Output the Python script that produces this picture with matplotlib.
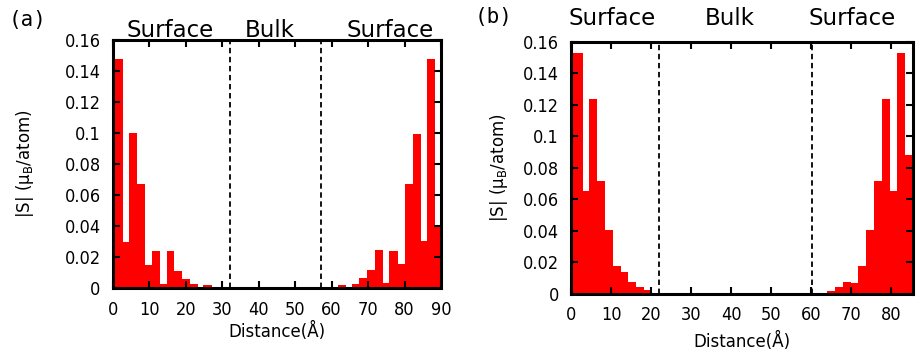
import numpy as np
import matplotlib
matplotlib.use("Agg")
import matplotlib.pyplot as plt

# Panel (a): layer boundaries (Angstrom) and |S| per layer
edges_a = [0, 0.3, 2.8, 4.4, 6.7, 8.8, 10.6, 12.9, 14.7, 16.8, 19.0, 21.2, 23.2, 24.8, 27.1, 29.4, 32.2,
           57.3, 60.5, 61.8, 63.9, 65.7, 67.6, 69.8, 71.9, 74.2, 75.8, 78.1, 80.1, 82.2, 84.4, 86.2, 88.4, 90.0]
spin_a = [0.040, 0.148, 0.030, 0.100, 0.067, 0.015, 0.024, 0.003, 0.024, 0.011, 0.006, 0.003, 0.0, 0.002, 0.0005, 0.0005,
          0.0,
          0.0008, 0.0005, 0.0023, 0.0, 0.003, 0.0064, 0.0118, 0.0247, 0.0034, 0.024, 0.0155, 0.067, 0.0996, 0.0307, 0.148, 0.0397]
bounds_a = [32.0, 57.0]

# Panel (b)
edges_b = [0, 0.45, 2.8, 4.4, 6.3, 8.4, 10.5, 12.3, 14.2, 16.1, 18.1, 20.05,
           63.8, 65.9, 68.0, 70.0, 71.7, 73.6, 75.6, 77.6, 79.6, 81.4, 83.4, 85.5]
spin_b = [0.088, 0.153, 0.0656, 0.124, 0.0717, 0.0406, 0.018, 0.0138, 0.0076, 0.0042, 0.0023,
          0.0,
          0.0021, 0.0044, 0.0078, 0.0072, 0.018, 0.0406, 0.072, 0.124, 0.0656, 0.153, 0.088]
bounds_b = [21.9, 60.2]

regions = ["Surface", "Bulk", "Surface"]
region_x_a = [15.7, 43.0, 76.0]
region_x_b = [10.1, 39.6, 70.1]

yticks = [0, 0.02, 0.04, 0.06, 0.08, 0.1, 0.12, 0.14, 0.16]

plt.rcParams['font.family'] = ['DejaVu Sans']
plt.rcParams['mathtext.default'] = 'regular'

fig = plt.figure(figsize=(9.18, 3.54), dpi=100)
ax_a = fig.add_axes([0.1231, 0.1856, 0.3573, 0.7014])
ax_b = fig.add_axes([0.6225, 0.1695, 0.3725, 0.7119])


def draw_panel(ax, edges, spin, bounds, xmax, xticks, region_x, head_y, ylab_x, xlab_y):
    ax.stairs(spin, edges, fill=True, color='#ff0000', linewidth=0)
    for b in bounds:
        ax.axvline(b, color='black', linestyle=(0, (3, 2)), linewidth=1.3)
    ax.set_xlim(0, xmax)
    ax.set_ylim(0, 0.16)
    ax.set_xticks(xticks)
    ax.set_yticks(yticks)
    ax.set_yticklabels([f"{v:g}" for v in yticks])
    ax.tick_params(direction='in', top=True, right=True, length=5, width=1.5,
                   labelsize=13, pad=9)
    for lbl in ax.get_xticklabels() + ax.get_yticklabels():
        lbl.set_fontstretch('condensed')
    for s in ax.spines.values():
        s.set_linewidth(2.2)
    for name, xr in zip(regions, region_x):
        ax.text(xr, head_y, name, transform=ax.get_xaxis_transform(),
                ha='center', va='baseline', fontsize=16.5)
    ax.set_ylabel(r'|S| ($\mu_B$/atom)', fontsize=12)
    ax.yaxis.set_label_coords(ylab_x, 0.5)
    ax.set_xlabel('Distance(Å)', fontsize=12)
    ax.xaxis.set_label_coords(0.5, xlab_y)


draw_panel(ax_a, edges_a, spin_a, bounds_a, 90, np.arange(0, 91, 10), region_x_a, 1.014, -0.236, -0.137)
draw_panel(ax_b, edges_b, spin_b, bounds_b, 85.5, np.arange(0, 81, 10), region_x_b, 1.067, -0.181, -0.15)

fig.text(28 / 918, 1 - 20 / 354, '(a)', ha='center', va='center', fontsize=15, family='DejaVu Sans Mono')
fig.text(494 / 918, 1 - 17 / 354, '(b)', ha='center', va='center', fontsize=15, family='DejaVu Sans Mono')

fig.savefig('out.png', dpi=100)
